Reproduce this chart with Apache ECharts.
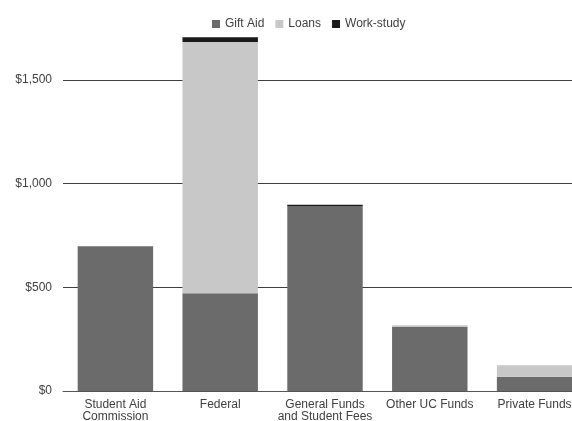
<!DOCTYPE html>
<html>
<head>
<meta charset="utf-8">
<script src="https://cdn.jsdelivr.net/npm/echarts@6/dist/echarts.min.js"></script>
<style>html,body{margin:0;padding:0;background:#fff}#c{width:572px;height:421px}</style>
</head>
<body>
<div id="c"></div>
<script>
var categories = ['Student Aid\nCommission', 'Federal', 'General Funds\nand Student Fees', 'Other UC Funds', 'Private Funds'];
var giftAid = [698, 471, 893, 309, 69];
var loans = [0, 1212, 0, 8, 55];
var workStudy = [0, 23, 5, 0, 0];
var yTicks = [0, 500, 1000, 1500];

var chart = echarts.init(document.getElementById('c'), null, {renderer: 'canvas'});
var font = {fontFamily: 'Liberation Sans, Arial, sans-serif', fontSize: 12, color: '#404040'};
chart.setOption({
  animation: false,
  backgroundColor: '#fff',
  legend: {
    data: ['Gift Aid', 'Loans', 'Work-study'],
    left: 207, top: 13,
    itemWidth: 8, itemHeight: 8, itemGap: 11,
    icon: 'rect',
    textStyle: font
  },
  grid: {
    left: 63, width: 524, bottom: 30, height: 414.6,
    containLabel: false, outerBoundsMode: 'none'
  },
  xAxis: {
    type: 'category',
    data: categories,
    axisTick: {show: false},
    axisLine: {lineStyle: {color: '#555', width: 1}},
    axisLabel: Object.assign({interval: 0, margin: 8, lineHeight: 12}, font)
  },
  yAxis: {
    type: 'value',
    min: 0, max: 2000, interval: 500,
    axisLine: {show: false},
    axisTick: {show: false},
    splitLine: {lineStyle: {color: '#404040', width: 1}},
    axisLabel: Object.assign({margin: 11, formatter: function (v) {
      return yTicks.indexOf(v) >= 0 ? '$' + v.toLocaleString('en-US') : '';
    }}, font)
  },
  series: [
    {name: 'Gift Aid', type: 'bar', stack: 't', data: giftAid, barWidth: '72%', itemStyle: {color: '#6b6b6b'}},
    {name: 'Loans', type: 'bar', stack: 't', data: loans, itemStyle: {color: '#c8c8c8'}},
    {name: 'Work-study', type: 'bar', stack: 't', data: workStudy, itemStyle: {color: '#1a1a1a'}}
  ]
});
</script>
</body>
</html>
